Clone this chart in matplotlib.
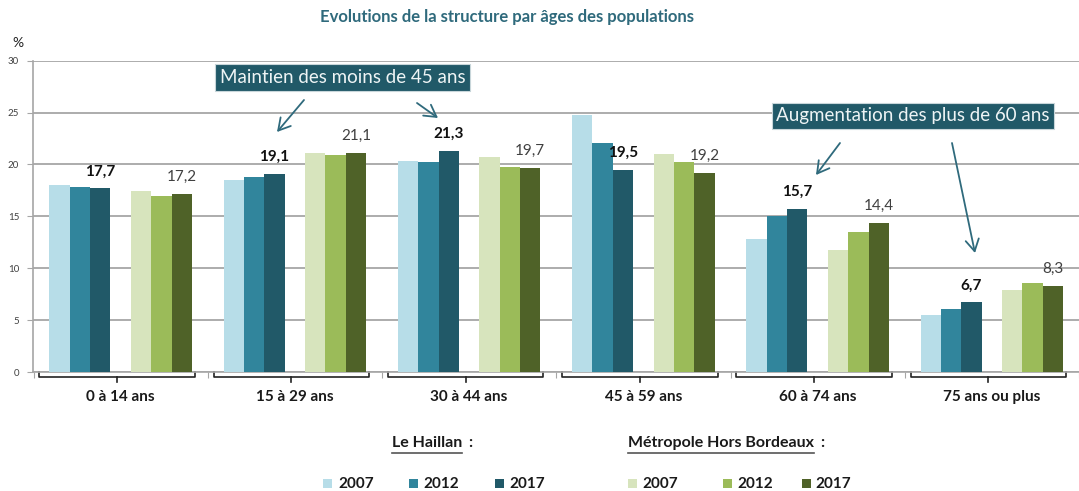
import matplotlib
matplotlib.use("Agg")
import matplotlib.pyplot as plt
from matplotlib.patches import Rectangle, FancyArrowPatch
from matplotlib.lines import Line2D
import numpy as np

# ---------------- data ----------------
categories = ["0 à 14 ans", "15 à 29 ans", "30 à 44 ans", "45 à 59 ans", "60 à 74 ans", "75 ans ou plus"]
years = ["2007", "2012", "2017"]
haillan_2007 = [18.0, 18.5, 20.3, 24.8, 12.8, 5.5]
haillan_2012 = [17.8, 18.8, 20.2, 22.1, 15.0, 6.1]
haillan_2017 = [17.7, 19.1, 21.3, 19.5, 15.7, 6.7]
metro_2007 = [17.4, 21.1, 20.7, 21.0, 11.8, 7.9]
metro_2012 = [17.0, 20.9, 19.8, 20.2, 13.5, 8.6]
metro_2017 = [17.2, 21.1, 19.7, 19.2, 14.4, 8.3]
yticks = [0, 5, 10, 15, 20, 25, 30]

haillan_colors = ["#b7dde8", "#31859c", "#215968"]
metro_colors = ["#d7e4bd", "#9bbb59", "#4f6228"]

FONT = "Lato"
plt.rcParams["font.family"] = [FONT, "DejaVu Sans"]

W, H = 1079, 491
fig = plt.figure(figsize=(W / 100, H / 100), dpi=100)

# axes: x from 33px to 1079px ; y=0 at 372px, y=30 at 60.7px
left_px, right_px = 33, 1079
y0_px, y30_px = 372, 60.7
ax = fig.add_axes([left_px / W, (H - y0_px) / H, (right_px - left_px) / W, (y0_px - y30_px) / H])

x = np.arange(len(categories))
w = 0.117
haillan = [haillan_2007, haillan_2012, haillan_2017]
metro = [metro_2007, metro_2012, metro_2017]
for k in range(3):
    ax.bar(x + (k - 3) * w, haillan[k], width=w, color=haillan_colors[k], zorder=3, linewidth=0)
for k in range(3):
    ax.bar(x + (k + 1) * w, metro[k], width=w, color=metro_colors[k], zorder=3, linewidth=0)

ax.set_xlim(-0.503, 5.474)
ax.set_ylim(0, 30)
ax.set_yticks(yticks)
ax.set_yticklabels([str(t) for t in yticks], fontsize=7, color="#404040")
ax.yaxis.grid(True, color="#a6a6a6", linewidth=1.3, zorder=0)
ax.set_axisbelow(True)
for s in ["top", "right"]:
    ax.spines[s].set_visible(False)
ax.spines["left"].set_color("#a6a6a6")
ax.spines["bottom"].set_color("#a6a6a6")
ax.spines["left"].set_linewidth(1.2)
ax.spines["bottom"].set_linewidth(1.2)
ax.tick_params(axis="y", length=4, color="#a6a6a6", pad=6)
ax.set_xticks(np.arange(len(categories) + 1) - 0.5)
ax.set_xticklabels([])
ax.tick_params(axis="x", length=4, color="#a6a6a6", direction="out")

# data labels
for i in range(len(categories)):
    ax.annotate(f"{haillan_2017[i]:.1f}".replace(".", ","), (x[i] - w, haillan_2017[i]),
                xytext=(0, 17), textcoords="offset pixels", ha="center", va="center",
                fontsize=11, fontweight="bold", color="#111111")
    ax.annotate(f"{metro_2017[i]:.1f}".replace(".", ","), (x[i] + 3 * w, metro_2017[i]),
                xytext=(0, 17), textcoords="offset pixels", ha="center", va="center",
                fontsize=11, color="#404040")

# brackets under the categories
trans = ax.get_xaxis_transform()
for i in range(len(categories)):
    a, b, c = i - 0.466, i + 0.426, i - 0.02
    ax.plot([a, a, b, b], [0, -5 / 311.3, -5 / 311.3, 0], transform=trans, color="#222222",
            lw=1.2, clip_on=False)
    ax.plot([c, c], [-5 / 311.3, -10 / 311.3], transform=trans, color="#222222", lw=1.2, clip_on=False)
    ax.text(i, -25 / 311.3, categories[i], transform=trans, ha="center", va="center",
            fontsize=11, fontweight="bold", color="#1a1a1a")

# title and y unit
fig.text(507 / W, 1 - 17 / H, "Evolutions de la structure par âges des populations",
         ha="center", va="center", fontsize=12, fontweight="bold", color="#2f6a7c")
fig.text(18 / W, 1 - 43 / H, "%", ha="center", va="center", fontsize=10, color="#222222")

# annotation boxes
box = dict(boxstyle="square,pad=0.25", fc="#215968", ec="#c8d6da", lw=0.8)
fig.text(342.5 / W, 1 - 77.5 / H, "Maintien des moins de 45 ans", ha="center", va="center",
         fontsize=13.5, color="#eef4f5", bbox=box)
fig.text(913 / W, 1 - 116 / H, "Augmentation des plus de 60 ans", ha="center", va="center",
         fontsize=13.5, color="#eef4f5", bbox=box)
for (sx, sy), (ex, ey) in [((304, 100), (277, 132)), ((417, 103), (438, 118)),
                           ((840, 143), (816, 175)), ((952, 143), (975, 253))]:
    fig.add_artist(FancyArrowPatch(
        (sx / W, 1 - sy / H), (ex / W, 1 - ey / H), transform=fig.transFigure,
        arrowstyle="->,head_length=0.7,head_width=0.4", mutation_scale=12,
        color="#2f6a7c", lw=1.3, shrinkA=0, shrinkB=0))

# legend
fig.canvas.draw()
renderer = fig.canvas.get_renderer()

def heading(px, py, label):
    t = fig.text(px / W, 1 - py / H, label, ha="left", va="center", fontsize=11.5,
                 fontweight="bold", color="#1a1a1a")
    bb = t.get_window_extent(renderer)
    fig.add_artist(Line2D([bb.x0 / W, bb.x1 / W], [(H - py - 10) / H] * 2, color="#555555", lw=1.2))
    fig.text(bb.x1 / W + 6 / W, 1 - py / H, ":", ha="left", va="center", fontsize=11.5,
             fontweight="bold", color="#1a1a1a")

heading(392, 443, "Le Haillan")
heading(628, 443, "Métropole Hors Bordeaux")

sq = 9
for k, (sxp, txp) in enumerate([(323, 338), (409, 423), (495, 509)]):
    fig.add_artist(Rectangle((sxp / W, (H - 488) / H), sq / W, sq / H, transform=fig.transFigure,
                             fc=haillan_colors[k], ec="none"))
    fig.text(txp / W, 1 - 484 / H, years[k], ha="left", va="center", fontsize=11,
             fontweight="bold", color="#1a1a1a")
for k, (sxp, txp) in enumerate([(628, 642), (723, 737), (802, 815)]):
    fig.add_artist(Rectangle((sxp / W, (H - 488) / H), sq / W, sq / H, transform=fig.transFigure,
                             fc=metro_colors[k], ec="none"))
    fig.text(txp / W, 1 - 484 / H, years[k], ha="left", va="center", fontsize=11,
             fontweight="bold", color="#1a1a1a")

fig.savefig("out.png", dpi=100)
